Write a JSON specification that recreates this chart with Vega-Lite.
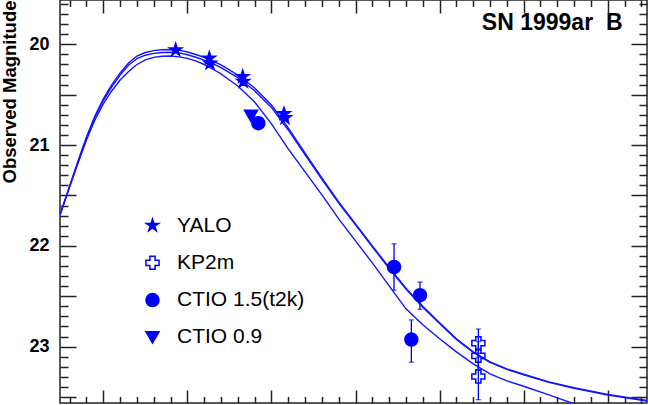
{
  "$schema": "https://vega.github.io/schema/vega-lite/v6.json",
  "width": 587,
  "height": 403,
  "autosize": {"type": "none"},
  "padding": {"left": 60, "top": 0, "right": 1, "bottom": 2},
  "background": "white",
  "config": {"view": {"stroke": "#222", "strokeWidth": 1.5}, "font": "Liberation Sans"},
  "datasets": {
    "curves": [
      {"c":"A","t":-15.15,"m":21.693},{"c":"A","t":-14,"m":21.405},{"c":"A","t":-13,"m":21.157},{"c":"A","t":-12,"m":20.919},{"c":"A","t":-11,"m":20.711},{"c":"A","t":-10,"m":20.542},{"c":"A","t":-9,"m":20.403},{"c":"A","t":-8,"m":20.284},{"c":"A","t":-7,"m":20.185},{"c":"A","t":-6,"m":20.116},{"c":"A","t":-5,"m":20.081},{"c":"A","t":-4,"m":20.063},{"c":"A","t":-3,"m":20.054},{"c":"A","t":-2,"m":20.051},{"c":"A","t":-1,"m":20.058},{"c":"A","t":0,"m":20.076},{"c":"A","t":1,"m":20.101},{"c":"A","t":2,"m":20.13},{"c":"A","t":3,"m":20.165},{"c":"A","t":4,"m":20.205},{"c":"A","t":5,"m":20.254},{"c":"A","t":6,"m":20.304},{"c":"A","t":8,"m":20.433},{"c":"A","t":10,"m":20.602},{"c":"A","t":12,"m":20.83},{"c":"A","t":14,"m":21.08},{"c":"A","t":16,"m":21.326},{"c":"A","t":18,"m":21.564},{"c":"A","t":20,"m":21.782},{"c":"A","t":22,"m":22.0},{"c":"A","t":24,"m":22.215},{"c":"A","t":26,"m":22.42},{"c":"A","t":28,"m":22.6},{"c":"A","t":30,"m":22.764},{"c":"A","t":32,"m":22.923},{"c":"A","t":34,"m":23.052},{"c":"A","t":36,"m":23.151},{"c":"A","t":38,"m":23.221},{"c":"A","t":40,"m":23.275},{"c":"A","t":43,"m":23.35},{"c":"A","t":46,"m":23.409},{"c":"A","t":50,"m":23.474},{"c":"A","t":54.67,"m":23.535},
      {"c":"B","t":-15.15,"m":21.693},{"c":"B","t":-14,"m":21.408},{"c":"B","t":-13,"m":21.163},{"c":"B","t":-12,"m":20.929},{"c":"B","t":-11,"m":20.724},{"c":"B","t":-10,"m":20.558},{"c":"B","t":-9,"m":20.422},{"c":"B","t":-8,"m":20.305},{"c":"B","t":-7,"m":20.208},{"c":"B","t":-6,"m":20.141},{"c":"B","t":-5,"m":20.108},{"c":"B","t":-4,"m":20.09},{"c":"B","t":-3,"m":20.081},{"c":"B","t":-2,"m":20.078},{"c":"B","t":-1,"m":20.085},{"c":"B","t":0,"m":20.103},{"c":"B","t":1,"m":20.128},{"c":"B","t":2,"m":20.157},{"c":"B","t":3,"m":20.192},{"c":"B","t":4,"m":20.232},{"c":"B","t":5,"m":20.281},{"c":"B","t":6,"m":20.331},{"c":"B","t":8,"m":20.46},{"c":"B","t":10,"m":20.626},{"c":"B","t":12,"m":20.85},{"c":"B","t":14,"m":21.097},{"c":"B","t":16,"m":21.341},{"c":"B","t":18,"m":21.576},{"c":"B","t":20,"m":21.792},{"c":"B","t":22,"m":22.01},{"c":"B","t":24,"m":22.225},{"c":"B","t":26,"m":22.43},{"c":"B","t":28,"m":22.61},{"c":"B","t":30,"m":22.772},{"c":"B","t":32,"m":22.93},{"c":"B","t":34,"m":23.058},{"c":"B","t":36,"m":23.157},{"c":"B","t":38,"m":23.227},{"c":"B","t":40,"m":23.281},{"c":"B","t":43,"m":23.356},{"c":"B","t":46,"m":23.415},{"c":"B","t":50,"m":23.48},{"c":"B","t":54.67,"m":23.54},
      {"c":"C","t":-15.15,"m":21.693},{"c":"C","t":-14,"m":21.415},{"c":"C","t":-13,"m":21.177},{"c":"C","t":-12,"m":20.949},{"c":"C","t":-11,"m":20.75},{"c":"C","t":-10,"m":20.592},{"c":"C","t":-9,"m":20.463},{"c":"C","t":-8,"m":20.354},{"c":"C","t":-7,"m":20.269},{"c":"C","t":-6,"m":20.2},{"c":"C","t":-5,"m":20.155},{"c":"C","t":-4,"m":20.13},{"c":"C","t":-3,"m":20.118},{"c":"C","t":-2,"m":20.116},{"c":"C","t":-1,"m":20.124},{"c":"C","t":0,"m":20.14},{"c":"C","t":1,"m":20.165},{"c":"C","t":2,"m":20.2},{"c":"C","t":3,"m":20.245},{"c":"C","t":4,"m":20.294},{"c":"C","t":5,"m":20.354},{"c":"C","t":6,"m":20.413},{"c":"C","t":8,"m":20.572},{"c":"C","t":10,"m":20.79},{"c":"C","t":12,"m":21.038},{"c":"C","t":14,"m":21.266},{"c":"C","t":16,"m":21.494},{"c":"C","t":18,"m":21.733},{"c":"C","t":20,"m":21.951},{"c":"C","t":22,"m":22.169},{"c":"C","t":24,"m":22.397},{"c":"C","t":26,"m":22.625},{"c":"C","t":28,"m":22.784},{"c":"C","t":30,"m":22.923},{"c":"C","t":32,"m":23.052},{"c":"C","t":34,"m":23.171},{"c":"C","t":36,"m":23.27},{"c":"C","t":38,"m":23.34},{"c":"C","t":40,"m":23.394},{"c":"C","t":43,"m":23.479},{"c":"C","t":46,"m":23.568},{"c":"C","t":50,"m":23.667},{"c":"C","t":54.67,"m":23.756}
    ],
    "pts": [
      {"tel":"YALO","t":-1.39,"m":20.056},{"tel":"YALO","t":2.61,"m":20.138},{"tel":"YALO","t":2.69,"m":20.188},{"tel":"YALO","t":6.58,"m":20.321},{"tel":"YALO","t":6.65,"m":20.37},{"tel":"YALO","t":11.49,"m":20.69},{"tel":"YALO","t":11.61,"m":20.73},
      {"tel":"KP2m","t":34.61,"m":22.966},{"tel":"KP2m","t":34.61,"m":23.092},{"tel":"KP2m","t":34.61,"m":23.297},
      {"tel":"CTIO 1.5(t2k)","t":8.44,"m":20.783},{"tel":"CTIO 1.5(t2k)","t":24.58,"m":22.21},{"tel":"CTIO 1.5(t2k)","t":27.67,"m":22.49},{"tel":"CTIO 1.5(t2k)","t":26.64,"m":22.93},
      {"tel":"CTIO 0.9","t":7.57,"m":20.711}
    ],
    "errs": [
      {"t":24.58,"lo":21.98,"hi":22.44},{"t":27.67,"lo":22.36,"hi":22.63},{"t":26.64,"lo":22.735,"hi":23.155},
      {"t":34.61,"lo":22.826,"hi":23.106},{"t":34.61,"lo":22.95,"hi":23.23},{"t":34.61,"lo":23.067,"hi":23.527}
    ]
  },
  "layer": [
    {
      "data": {"name": "curves"},
      "mark": {"type": "line", "clip": true, "color": "#1414ff", "strokeWidth": 1.4},
      "encoding": {
        "x": {"field": "t", "type": "quantitative", "scale": {"domain": [-15.15, 54.67], "nice": false, "zero": false},
          "axis": {"orient": "bottom", "values": [-14,-12,-10,-8,-6,-4,-2,0,2,4,6,8,10,12,14,16,18,20,22,24,26,28,30,32,34,36,38,40,42,44,46,48,50,52,54], "labels": false, "domain": false, "grid": false, "title": null, "tickColor": "#222", "tickWidth": 1.5, "tickSize": {"condition": {"test": "datum.value % 10 == 0", "value": -13}, "value": -6.5}}},
        "y": {"field": "m", "type": "quantitative", "scale": {"domain": [19.56, 23.56], "reverse": true, "nice": false, "zero": false},
          "axis": {"orient": "left", "values": [19.6,19.7,19.8,19.9,20,20.1,20.2,20.3,20.4,20.5,20.6,20.7,20.8,20.9,21,21.1,21.2,21.3,21.4,21.5,21.6,21.7,21.8,21.9,22,22.1,22.2,22.3,22.4,22.5,22.6,22.7,22.8,22.9,23,23.1,23.2,23.3,23.4,23.5],
            "labelExpr": "abs(datum.value - round(datum.value)) < 0.01 ? format(datum.value, 'd') : ''",
            "labelFont": "Liberation Sans", "labelFontSize": 18, "labelFontWeight": "bold", "labelColor": "black", "labelPadding": 27, "labelFlush": false, "labelOverlap": false, "labelBound": false,
            "domain": false, "grid": false, "tickColor": "#222", "tickWidth": 1.5,
            "tickSize": {"condition": {"test": "abs(datum.value*2 - round(datum.value*2)) < 0.01", "value": -16}, "value": -8},
            "title": "Observed Magnitude", "titleFont": "Liberation Sans", "titleFontSize": 18.5, "titleFontWeight": "bold", "titleColor": "black", "titleAngle": -90, "titleAlign": "right", "titleBaseline": "alphabetic", "titleX": -45, "titleY": 0}},
        "detail": {"field": "c"}
      }
    },
    {
      "data": {"name": "errs"},
      "mark": {"type": "rule", "color": "#0000ff", "strokeWidth": 1.3},
      "encoding": {
        "x": {"field": "t", "type": "quantitative", "scale": {"domain": [-15.15, 54.67], "nice": false, "zero": false},
          "axis": {"orient": "top", "values": [-14,-12,-10,-8,-6,-4,-2,0,2,4,6,8,10,12,14,16,18,20,22,24,26,28,30,32,34,36,38,40,42,44,46,48,50,52,54], "labels": false, "domain": false, "grid": false, "tickColor": "#222", "tickWidth": 1.5, "tickSize": {"condition": {"test": "datum.value % 10 == 0", "value": -13}, "value": -6.5},
            "title": "SN 1999ar\u00a0 B", "titleFont": "Liberation Sans", "titleFontSize": 23, "titleFontWeight": "bold", "titleColor": "black", "titleAngle": 0, "titleAlign": "right", "titleBaseline": "alphabetic", "titleX": 562, "titleY": 29.5}},
        "y": {"field": "lo", "type": "quantitative", "scale": {"domain": [19.56, 23.56], "reverse": true, "nice": false, "zero": false},
          "axis": {"orient": "right", "values": [19.6,19.7,19.8,19.9,20,20.1,20.2,20.3,20.4,20.5,20.6,20.7,20.8,20.9,21,21.1,21.2,21.3,21.4,21.5,21.6,21.7,21.8,21.9,22,22.1,22.2,22.3,22.4,22.5,22.6,22.7,22.8,22.9,23,23.1,23.2,23.3,23.4,23.5], "labels": false, "domain": false, "grid": false, "title": null, "tickColor": "#222", "tickWidth": 1.5,
            "tickSize": {"condition": {"test": "abs(datum.value*2 - round(datum.value*2)) < 0.01", "value": -16}, "value": -8}}},
        "y2": {"field": "hi"}
      }
    },
    {
      "data": {"name": "errs"},
      "mark": {"type": "tick", "orient": "horizontal", "color": "#0000ff", "size": 5, "thickness": 1.3},
      "encoding": {
        "x": {"field": "t", "type": "quantitative", "scale": {"domain": [-15.15, 54.67], "nice": false, "zero": false}, "axis": null},
        "y": {"field": "lo", "type": "quantitative", "scale": {"domain": [19.56, 23.56], "reverse": true, "nice": false, "zero": false}, "axis": null}
      }
    },
    {
      "data": {"name": "errs"},
      "mark": {"type": "tick", "orient": "horizontal", "color": "#0000ff", "size": 5, "thickness": 1.3},
      "encoding": {
        "x": {"field": "t", "type": "quantitative", "scale": {"domain": [-15.15, 54.67], "nice": false, "zero": false}, "axis": null},
        "y": {"field": "hi", "type": "quantitative", "scale": {"domain": [19.56, 23.56], "reverse": true, "nice": false, "zero": false}, "axis": null}
      }
    },
    {
      "data": {"name": "pts"},
      "mark": {"type": "point", "strokeWidth": 1.5, "size": 170, "opacity": 1, "fillOpacity": 1},
      "encoding": {
        "x": {"field": "t", "type": "quantitative", "scale": {"domain": [-15.15, 54.67], "nice": false, "zero": false}, "axis": null},
        "y": {"field": "m", "type": "quantitative", "scale": {"domain": [19.56, 23.56], "reverse": true, "nice": false, "zero": false}, "axis": null},
        "shape": {"field": "tel", "type": "nominal", "scale": {"domain": ["YALO", "KP2m", "CTIO 1.5(t2k)", "CTIO 0.9"], "range": ["M0,-1L0.2234,-0.3074L0.9511,-0.309L0.3614,0.1174L0.5878,0.809L0,0.38L-0.5878,0.809L-0.3614,0.1174L-0.9511,-0.309L-0.2234,-0.3074Z", "cross", "circle", "triangle-down"]},
          "legend": {"orient": "none", "legendX": 82, "legendY": 215, "title": null, "padding": 0, "labelFont": "Liberation Sans", "labelFontSize": 21, "labelColor": "black", "symbolSize": 170, "rowPadding": 15.3, "labelOffset": 14, "symbolStrokeWidth": 1.5}},
        "fill": {"field": "tel", "type": "nominal", "scale": {"domain": ["YALO", "KP2m", "CTIO 1.5(t2k)", "CTIO 0.9"], "range": ["#0000ff", "transparent", "#0000ff", "#0000ff"]},
          "legend": {"orient": "none", "legendX": 82, "legendY": 215, "title": null, "padding": 0, "labelFont": "Liberation Sans", "labelFontSize": 21, "labelColor": "black", "symbolSize": 170, "rowPadding": 15.3, "labelOffset": 14, "symbolStrokeWidth": 1.5}},
        "stroke": {"field": "tel", "type": "nominal", "scale": {"domain": ["YALO", "KP2m", "CTIO 1.5(t2k)", "CTIO 0.9"], "range": ["#0000ff", "#0000ff", "#0000ff", "#0000ff"]},
          "legend": {"orient": "none", "legendX": 82, "legendY": 215, "title": null, "padding": 0, "labelFont": "Liberation Sans", "labelFontSize": 21, "labelColor": "black", "symbolSize": 170, "rowPadding": 15.3, "labelOffset": 14, "symbolStrokeWidth": 1.5}}
      }
    }
  ],
  "resolve": {"axis": {"x": "independent", "y": "independent"}}
}
